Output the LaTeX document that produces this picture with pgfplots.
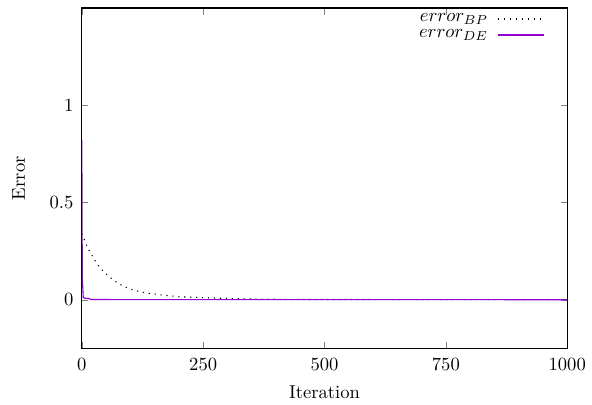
\documentclass[border=0pt]{standalone}
\usepackage{pgfplots}
\pgfplotsset{compat=1.18}
\definecolor{gpviolet}{RGB}{148,0,211}
\begin{document}
\begin{tikzpicture}
\begin{axis}[
  name=ax,
  scale only axis,
  width=261pt, height=183pt,
  xmin=0, xmax=1000, ymin=-0.25, ymax=1.5,
  xtick={0,250,500,750,1000},
  ytick={0,0.5,1},
  /pgf/number format/1000 sep={},
  tick align=inside,
  xtick pos=both, ytick pos=both,
  major tick length=3.5pt,
  xticklabel style={yshift=-2pt},
  yticklabel style={xshift=-1pt},
  xlabel={Iteration}, ylabel={Error},
  xlabel style={at={([yshift=-23.5pt]axis description cs:0.5,0)}, anchor=center},
  ylabel style={at={([xshift=-34pt]axis description cs:0,0.5)}, anchor=center},
  axis line style={line width=0.6pt},
  legend style={draw=none, fill=none, inner sep=0pt, at={(0.955,0.99)}, anchor=north east,
    nodes={inner xsep=1pt, inner ysep=1pt}, row sep=0.8pt,
    /tikz/every odd column/.append style={column sep=4pt}},
  legend cell align=right,
  legend plot pos=right,
  legend image code/.code={\draw[#1] plot coordinates {(0cm,0cm) (0.88cm,0cm)};},
]
\addplot[black, line width=0.6pt, dash pattern=on 0.6pt off 2.6pt] coordinates {
(0,0.34) (6,0.304) (11,0.273) (17,0.244) (23,0.218) (30,0.19) (37,0.166) (45,0.144) (54,0.124) (64,0.103) (75,0.084) (87,0.068) (99,0.055) (112,0.046) (126,0.038) (143,0.031) (160,0.026) (180,0.02) (202,0.015) (235,0.012) (270,0.009) (300,0.006) (337,0.004) (401,0.002) (500,0.001) (700,0.0005) (1000,0.0002)
};
\addlegendentry{$error_{BP}$}
\addplot[color=gpviolet, line width=0.6pt] coordinates {
(0,0.82) (1,0.11) (2,0.06) (3,0.012) (5,0.008) (15,0.006) (18,0.001) (100,0.0005) (1000,0)
};
\addlegendentry{$error_{DE}$}
\end{axis}
\path ([shift={(-44pt,-30pt)}]ax.south west) rectangle ([shift={(13pt,4.3pt)}]ax.north east);
\end{tikzpicture}
\end{document}
